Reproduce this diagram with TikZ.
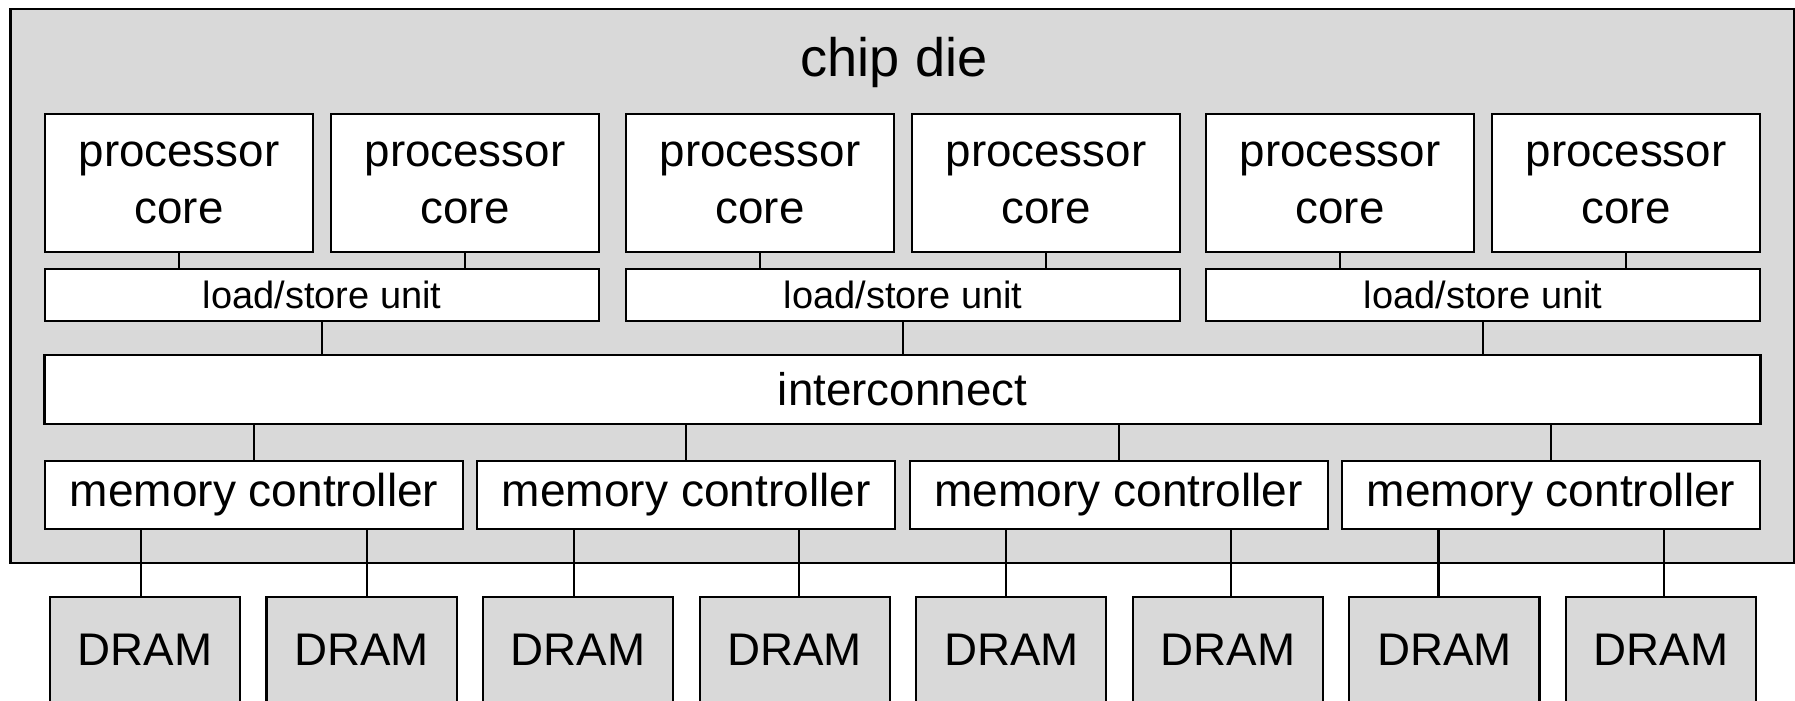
\documentclass[tikz,border=0pt]{standalone}
\usepackage{fontspec}
\setmainfont{Liberation Sans}

\definecolor{diegray}{HTML}{D9D9D9}

\begin{document}
\begin{tikzpicture}[
	x=0.01cm,
	y=-0.01cm,
	line width=0.6pt,
	box/.style={draw=black, fill=white, inner sep=0pt,
		font=\fontsize{13}{15.6}\selectfont},
	die/.style={draw=black, fill=diegray, minimum width=17.83cm,
		minimum height=5.54cm},
	core/.style={box, minimum width=2.68cm, minimum height=1.38cm, align=center,
		font=\fontsize{13}{16}\selectfont},
	lsu/.style={box, minimum width=5.54cm, minimum height=0.52cm,
		font=\fontsize{10.8}{13}\selectfont},
	mc/.style={box, minimum width=4.18cm, minimum height=0.68cm,
		font=\fontsize{13.1}{15.6}\selectfont},
	dram/.style={box, fill=diegray, minimum width=1.9cm, minimum height=1.06cm}] {

\useasboundingbox (0,0) rectangle (1795,700);

% die outline and its title
\node[die] (die) at (902.5,286) {};
\node[anchor=base, font=\fontsize{15.4}{18}\selectfont] (dietitle) at (894,76) {chip die};

% cores, two per load/store unit
\node[core] (c1) at (179,183) {processor\\core};
\node[core] (c2) at (465,183) {processor\\core};
\node[core] (c3) at (760,183) {processor\\core};
\node[core] (c4) at (1046,183) {processor\\core};
\node[core] (c5) at (1340,183) {processor\\core};
\node[core] (c6) at (1626,183) {processor\\core};

\node[lsu] (l1) at (322,295) {load/store unit};
\node[lsu] (l2) at (903,295) {load/store unit};
\node[lsu] (l3) at (1483,295) {load/store unit};

\node[box, minimum width=17.15cm, minimum height=0.69cm] (ic)
    at (902.5,389.5) {interconnect};

% memory controllers
\node[mc] (m1) at (254,495) {memory controller};
\node[mc] (m2) at (686.3,495) {memory controller};
\node[mc] (m3) at (1118.7,495) {memory controller};
\node[mc] (m4) at (1551,495) {memory controller};

% off-chip memory, runs past the bottom edge
\node[dram] (d1) at (145,650) {DRAM};
\node[dram] (d2) at (361.6,650) {DRAM};
\node[dram] (d3) at (578.1,650) {DRAM};
\node[dram] (d4) at (794.7,650) {DRAM};
\node[dram] (d5) at (1011.3,650) {DRAM};
\node[dram] (d6) at (1227.9,650) {DRAM};
\node[dram] (d7) at (1444.4,650) {DRAM};
\node[dram] (d8) at (1661,650) {DRAM};

% links core -> lsu
\draw (c1.south) -- (c1.south |- l1.north);
\draw (c2.south) -- (c2.south |- l1.north);
\draw (c3.south) -- (c3.south |- l2.north);
\draw (c4.south) -- (c4.south |- l2.north);
\draw (c5.south) -- (c5.south |- l3.north);
\draw (c6.south) -- (c6.south |- l3.north);

% lsu -> interconnect -> controllers
\draw (l1.south) -- (l1.south |- ic.north);
\draw (l2.south) -- (l2.south |- ic.north);
\draw (l3.south) -- (l3.south |- ic.north);
\draw (m1.north) -- (m1.north |- ic.south);
\draw (m2.north) -- (m2.north |- ic.south);
\draw (m3.north) -- (m3.north |- ic.south);
\draw (m4.north) -- (m4.north |- ic.south);

% controllers -> dram
\draw ([xshift=-1.125cm]m1.south) -- ([xshift=-1.125cm]m1.south |- d1.north);
\draw ([xshift=1.125cm]m1.south) -- ([xshift=1.125cm]m1.south |- d2.north);
\draw ([xshift=-1.125cm]m2.south) -- ([xshift=-1.125cm]m2.south |- d3.north);
\draw ([xshift=1.125cm]m2.south) -- ([xshift=1.125cm]m2.south |- d4.north);
\draw ([xshift=-1.125cm]m3.south) -- ([xshift=-1.125cm]m3.south |- d5.north);
\draw ([xshift=1.125cm]m3.south) -- ([xshift=1.125cm]m3.south |- d6.north);
\draw ([xshift=-1.125cm]m4.south) -- ([xshift=-1.125cm]m4.south |- d7.north);
\draw ([xshift=1.125cm]m4.south) -- ([xshift=1.125cm]m4.south |- d8.north);
}\end{tikzpicture}
\end{document}
